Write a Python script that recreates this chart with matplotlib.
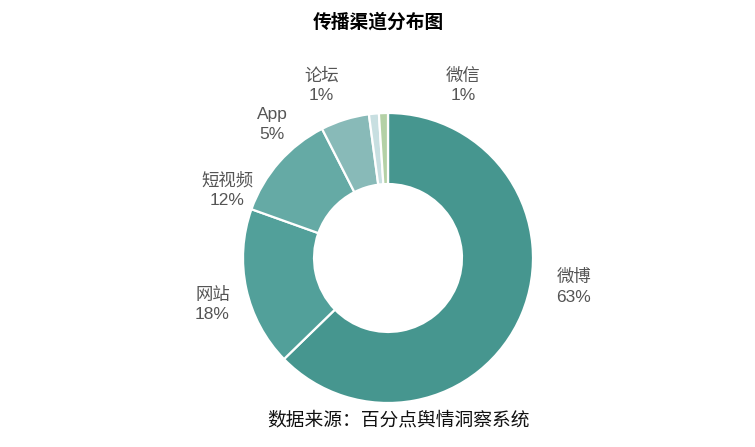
import matplotlib
matplotlib.use('Agg')
import matplotlib.pyplot as plt

# ── DATA ─────────────────────────────────────────────
channels = ['微博', '网站', '短视频', 'App', '论坛', '微信']
shares   = [62.6, 17.7, 12.0, 5.4, 1.1, 1.0]

# ── STYLE ────────────────────────────────────────────
colors = ['#46968F', '#52A09A', '#65AAA5', '#88BAB8', '#C8DFE1', '#B4D1A6']
label_pos = [(1.28, -0.20), (-1.21, -0.32), (-1.11, 0.47),
             (-0.80, 0.92), (-0.46, 1.19), (0.52, 1.19)]
LABEL_GREY = '#555555'
FONTS = ['Liberation Sans', 'Noto Sans CJK SC', 'DejaVu Sans']
plt.rcParams['font.family'] = FONTS

W, H = 755, 447
fig = plt.figure(figsize=(W / 100, H / 100), dpi=100)
fig.patch.set_facecolor('white')

# donut centre (388, 258) px, outer radius 145 px
cx, cy, r = 388, 258, 145
ax = fig.add_axes([(cx - r) / W, (H - cy - r) / H, 2 * r / W, 2 * r / H])

wedges, _ = ax.pie(shares, colors=colors, startangle=90, counterclock=False,
                   radius=1.0, wedgeprops=dict(width=0.49, edgecolor='white',
                                               linewidth=1.6))
ax.set_xlim(-1, 1)
ax.set_ylim(-1, 1)
ax.set_aspect('equal')
ax.axis('off')

for name, val, (lx, ly) in zip(channels, shares, label_pos):
    ax.text(lx, ly, f'{name}\n{val:.0f}%', ha='center', va='center',
            fontsize=12.5, color=LABEL_GREY, linespacing=1.35,
            fontweight='medium', clip_on=False)

fig.text(378 / W, 1 - 22 / H, '传播渠道分布图', ha='center', va='center',
         fontsize=13.5, fontweight='heavy', color='black',
         family=['Noto Sans CJK SC', 'DejaVu Sans'])
fig.text(398 / W, 1 - 420 / H, '数据来源：百分点舆情洞察系统', ha='center',
         va='center', fontsize=13.5, color='#111111',
         family=['Noto Sans CJK SC', 'DejaVu Sans'])

fig.savefig('out.png', dpi=100, facecolor='white')
